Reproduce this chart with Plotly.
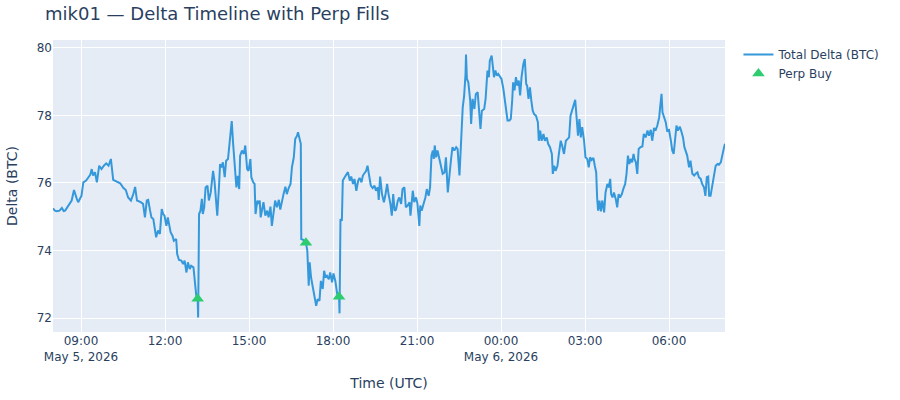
import pandas as pd
import plotly.graph_objects as go

# minutes after 2026-05-05 08:00 UTC, and total delta
t_min = [0, 4, 8, 14, 19, 23, 26, 30, 33, 37, 40, 45, 48, 51, 54, 58, 61, 65, 71, 76,
         80, 83, 86, 90, 94, 99, 104, 109, 114, 119, 124, 129, 136, 144, 151, 156, 161, 167, 172, 176,
         180, 185, 188, 193, 197, 201, 204, 208, 211, 215, 219, 221, 225, 229, 233, 236, 239, 243, 246, 249,
         252, 256, 259, 264, 266, 270, 275, 279, 282, 286, 289, 293, 296, 301, 304, 307, 310, 311, 313, 316,
         319, 321, 324, 327, 331, 334, 338, 343, 346, 350, 352, 356, 358, 361, 364, 368, 371, 375, 379, 381,
         383, 386, 389, 393, 396, 399, 401, 405, 409, 412, 416, 419, 423, 425, 429, 432, 434, 438, 441, 443,
         445, 449, 451, 455, 459, 462, 466, 469, 473, 476, 480, 484, 487, 491, 494, 498, 501, 505, 509, 512,
         516, 519, 523, 525, 528, 531, 532, 537, 542, 545, 548, 550, 553, 557, 561, 564, 567, 571, 574, 578,
         581, 584, 587, 591, 594, 598, 601, 605, 609, 613, 614, 616, 619, 621, 625, 629, 632, 636, 639, 643,
         646, 650, 654, 657, 661, 664, 668, 671, 674, 678, 681, 685, 689, 692, 696, 698, 701, 705, 709, 712,
         716, 719, 723, 726, 729, 732, 735, 739, 742, 746, 749, 753, 756, 760, 764, 766, 769, 771, 774, 778,
         781, 785, 787, 790, 794, 798, 801, 805, 808, 811, 814, 816, 818, 821, 824, 828, 831, 835, 839, 842,
         846, 849, 853, 856, 860, 864, 867, 871, 873, 875, 878, 881, 884, 885, 887, 890, 894, 896, 899, 903,
         906, 910, 913, 916, 919, 924, 927, 931, 934, 936, 940, 942, 945, 948, 951, 954, 958, 961, 965, 968,
         971, 974, 978, 981, 984, 986, 989, 992, 995, 998, 1001, 1004, 1008, 1011, 1014, 1016, 1019, 1022, 1025, 1028,
         1031, 1035, 1039, 1041, 1044, 1047, 1051, 1054, 1058, 1061, 1065, 1069, 1071, 1074, 1077, 1081, 1084, 1088, 1091, 1095,
         1099, 1102, 1106, 1109, 1113, 1116, 1119, 1122, 1125, 1128, 1131, 1134, 1138, 1141, 1145, 1148, 1151, 1154, 1158, 1161,
         1164, 1166, 1168, 1171, 1174, 1177, 1181, 1184, 1188, 1191, 1194, 1196, 1199, 1202, 1206, 1209, 1212, 1215, 1219, 1222,
         1226, 1229, 1232, 1235, 1238, 1241, 1244, 1246, 1249, 1252, 1255, 1259, 1263, 1266, 1270, 1274, 1277, 1281, 1284, 1288,
         1291, 1295, 1299, 1301, 1304, 1306, 1309, 1313, 1316, 1320, 1324, 1327, 1330, 1333, 1336, 1339, 1343, 1346, 1350, 1353,
         1356, 1359, 1363, 1366, 1370, 1374, 1377, 1381, 1384, 1388, 1391, 1395, 1398, 1401, 1404, 1406, 1409, 1413, 1416, 1420,
         1424, 1427, 1431, 1434, 1438, 1440]

delta = [75.25, 75.18, 75.16, 75.18, 75.26, 75.17, 75.18, 75.26, 75.33, 75.40, 75.48, 75.79, 75.62, 75.53, 75.43, 75.55, 75.62, 76.02, 76.07, 76.17,
         76.25, 76.41, 76.22, 76.32, 76.02, 76.51, 76.41, 76.51, 76.58, 76.51, 76.71, 76.09, 76.05, 75.99, 75.85, 75.79, 75.57, 75.48, 75.67, 75.88,
         75.48, 75.46, 75.43, 75.38, 74.98, 75.48, 75.50, 75.18, 74.98, 74.93, 74.64, 74.39, 74.59, 74.49, 75.23, 75.08, 75.03, 74.73, 74.98, 74.70,
         74.54, 74.44, 74.29, 74.34, 73.90, 73.72, 73.70, 73.60, 73.70, 73.35, 73.65, 73.45, 73.55, 73.50, 73.01, 72.66, 72.57, 72.02, 75.08, 75.18,
         75.53, 75.08, 75.28, 75.87, 75.92, 75.48, 75.72, 76.36, 76.06, 75.28, 75.03, 75.97, 76.56, 76.46, 76.61, 76.17, 76.66, 76.71, 77.25, 77.45,
         77.83, 77.16, 76.46, 75.87, 76.21, 75.82, 76.81, 76.96, 76.86, 77.11, 76.41, 76.36, 76.71, 76.17, 76.02, 75.97, 75.08, 75.48, 75.38, 75.48,
         74.98, 75.23, 75.43, 75.03, 75.18, 74.98, 75.30, 74.73, 75.23, 75.48, 75.28, 75.50, 75.21, 75.53, 75.67, 75.89, 75.67, 75.85, 75.97, 76.46,
         76.76, 77.30, 77.40, 77.50, 77.35, 77.16, 74.34, 74.31, 74.23, 73.99, 72.96, 73.65, 73.20, 72.86, 72.61, 72.36, 72.56, 72.51, 73.10, 72.86,
         73.40, 73.20, 73.25, 73.15, 73.35, 73.06, 73.32, 73.10, 72.71, 72.63, 72.14, 74.93, 74.88, 76.07, 76.17, 76.27, 76.32, 76.07, 76.19, 75.97,
         76.12, 75.77, 76.07, 76.15, 76.02, 76.22, 76.29, 76.36, 76.51, 76.22, 75.92, 75.85, 75.92, 75.77, 75.87, 75.50, 76.19, 75.67, 75.43, 75.62,
         75.97, 75.67, 75.38, 75.03, 75.67, 75.18, 75.21, 75.48, 75.57, 75.38, 75.82, 75.87, 75.28, 75.33, 75.43, 75.03, 75.57, 75.77, 75.43, 75.57,
         75.38, 74.73, 75.33, 75.18, 75.38, 75.57, 75.82, 75.62, 75.87, 76.81, 76.96, 76.71, 77.11, 76.76, 76.96, 76.71, 76.56, 76.27, 76.31, 76.76,
         75.72, 76.27, 76.71, 77.06, 76.96, 77.06, 77.01, 76.22, 76.96, 77.55, 78.24, 78.58, 79.23, 79.80, 79.08, 78.98, 78.44, 77.75, 78.49, 78.19,
         78.63, 78.69, 77.99, 77.60, 78.14, 78.19, 78.49, 79.33, 79.13, 79.62, 79.77, 79.53, 79.13, 79.33, 79.18, 79.23, 79.16, 79.08, 78.79, 78.44,
         78.14, 77.85, 77.85, 77.90, 78.44, 78.98, 78.74, 79.13, 78.88, 79.03, 78.59, 79.13, 79.53, 79.67, 78.93, 78.88, 78.49, 78.83, 78.44, 78.14,
         78.04, 77.99, 77.80, 77.25, 77.55, 77.25, 77.45, 77.25, 77.35, 77.16, 77.06, 76.86, 76.27, 76.51, 76.36, 76.51, 76.86, 77.25, 77.11, 76.86,
         77.25, 77.30, 77.35, 77.99, 78.19, 78.29, 78.46, 77.94, 77.40, 77.89, 77.35, 77.65, 77.25, 76.76, 76.71, 76.46, 76.76, 76.68, 76.74, 76.51,
         76.31, 75.57, 75.18, 75.48, 75.16, 75.48, 75.13, 75.72, 75.97, 75.87, 76.12, 75.67, 75.57, 75.72, 75.52, 75.28, 75.67, 75.57, 75.67, 75.82,
         75.97, 76.27, 76.81, 76.56, 76.71, 76.61, 76.86, 76.71, 76.61, 76.27, 77.01, 77.06, 77.08, 77.45, 77.35, 77.55, 77.40, 77.57, 77.25, 77.63,
         77.55, 77.70, 77.94, 78.24, 78.64, 78.09, 77.94, 77.80, 77.55, 77.57, 77.25, 76.96, 76.86, 77.30, 77.70, 77.55, 77.67, 77.55, 77.35, 77.06,
         76.96, 76.81, 76.46, 76.66, 76.27, 76.22, 76.27, 76.31, 76.17, 76.12, 75.97, 75.87, 75.62, 76.17, 76.19, 75.62, 75.62, 75.97, 76.12, 76.51,
         76.56, 76.54, 76.61, 76.86, 77.06, 77.16]

# perp buy fills
fill_min = [310, 542, 613]
fill_delta = [72.57, 74.23, 72.63]

start = pd.Timestamp("2026-05-05 08:00")
times = start + pd.to_timedelta(t_min, unit="m")
fill_times = start + pd.to_timedelta(fill_min, unit="m")

fig = go.Figure()
fig.add_trace(go.Scatter(
    x=times, y=delta, mode="lines", name="Total Delta (BTC)",
    line=dict(color="#3498db", width=2),
))
fig.add_trace(go.Scatter(
    x=fill_times, y=fill_delta, mode="markers", name="Perp Buy",
    marker=dict(symbol="triangle-up", size=11, color="#2ecc71"),
))

fig.update_layout(
    template="plotly",
    width=900, height=400,
    font=dict(family="DejaVu Sans"),
    title=dict(text="mik01 — Delta Timeline with Perp Fills", font=dict(size=18),
               x=0.05, y=0.965, yanchor="middle"),
    xaxis_title="Time (UTC)",
    yaxis_title="Delta (BTC)",
    margin=dict(l=53, r=175, t=40, b=68),
)

# drop the default page margin so the figure sits at the window's corner
fig.write_html("out.html", config={"displayModeBar": False},
               post_script="document.body.style.margin='0';")
